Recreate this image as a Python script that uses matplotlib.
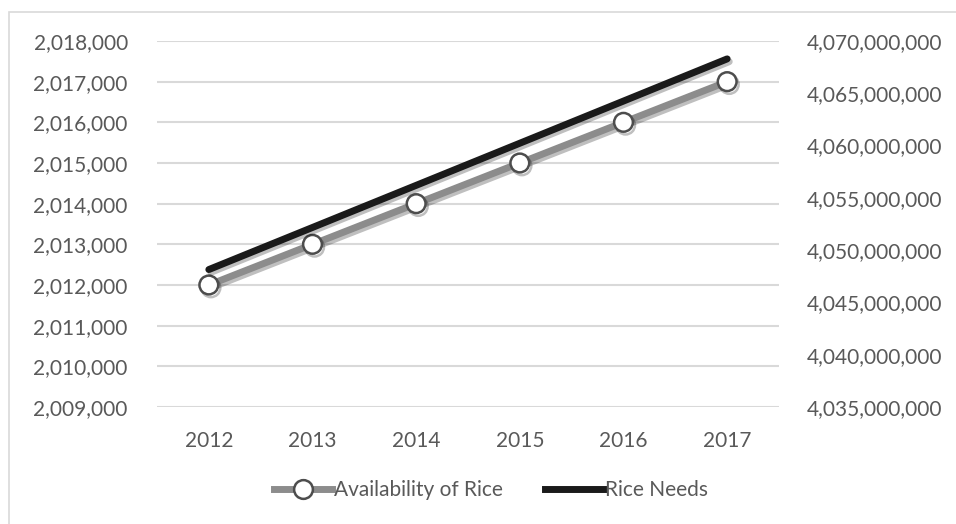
import matplotlib
matplotlib.use("Agg")
import matplotlib.pyplot as plt
import matplotlib.patheffects as pe
from matplotlib.ticker import FuncFormatter
from matplotlib.lines import Line2D
from matplotlib.patches import Rectangle

# data
years = ["2012", "2013", "2014", "2015", "2016", "2017"]
availability = [2012000, 2013000, 2014000, 2015000, 2016000, 2017000]
needs = [4048144000, 4052169000, 4056196000, 4060225000, 4064256000, 4068289000]

left_ticks = [2009000, 2010000, 2011000, 2012000, 2013000, 2014000, 2015000, 2016000, 2017000, 2018000]
right_ticks = [4035000000, 4040000000, 4045000000, 4050000000, 4055000000, 4060000000, 4065000000, 4070000000]

plt.rcParams['font.family'] = ['Lato', 'DejaVu Sans']
txt = '#595959'
fs = 15

fig = plt.figure(figsize=(9.56, 5.24), dpi=100)
fig.patches.append(Rectangle((9 / 956, -0.1), 1.2, (524 - 12) / 524 + 0.1,
                             transform=fig.transFigure, fill=False,
                             edgecolor='#d9d9d9', linewidth=1.2))

ax = fig.add_axes([157 / 956, 117 / 524, 622 / 956, 366 / 524])
ax2 = ax.twinx()

x = range(len(years))
shadow = [pe.SimpleLineShadow(offset=(1.5, -2), shadow_color='black', alpha=0.25), pe.Normal()]

ax.plot(x, availability, color='#8c8c8c', linewidth=5, marker='o', markersize=13.5,
        markerfacecolor='white', markeredgecolor='#4d4d4d', markeredgewidth=1.8,
        solid_capstyle='round', path_effects=shadow, zorder=3)
ax2.plot(x, needs, color='#1a1a1a', linewidth=5, solid_capstyle='round',
         path_effects=shadow, zorder=3)

ax.set_xlim(-0.5, len(years) - 0.5)
ax.set_ylim(left_ticks[0], left_ticks[-1])
ax2.set_ylim(right_ticks[0], right_ticks[-1])
ax.set_xticks(list(x))
ax.set_xticklabels(years)
ax.set_yticks(left_ticks)
ax2.set_yticks(right_ticks)

fmt = FuncFormatter(lambda v, p: f"{int(round(v)):,}")
ax.yaxis.set_major_formatter(fmt)
ax2.yaxis.set_major_formatter(fmt)

ax.grid(axis='y', color='#d9d9d9', linewidth=1.5)
ax.set_axisbelow(True)
for a in (ax, ax2):
    for s in a.spines.values():
        s.set_visible(False)
    a.tick_params(length=0, labelsize=fs, labelcolor=txt)
ax.tick_params(axis='y', pad=21)
ax2.tick_params(axis='y', pad=20)
ax.tick_params(axis='x', pad=17)

handles = [
    Line2D([], [], color='#8c8c8c', linewidth=5, marker='o', markersize=13.5,
           markerfacecolor='white', markeredgecolor='#4d4d4d', markeredgewidth=1.8),
    Line2D([], [], color='#1a1a1a', linewidth=5),
]
fig.legend(handles, ["Availability of Rice", "Rice Needs"], loc='center',
           bbox_to_anchor=(491 / 956, 34 / 524), ncol=2, frameon=False,
           fontsize=fs, labelcolor=txt, handlelength=2.8, handletextpad=0.1,
           columnspacing=2.0)

fig.savefig("out.png", dpi=100)
